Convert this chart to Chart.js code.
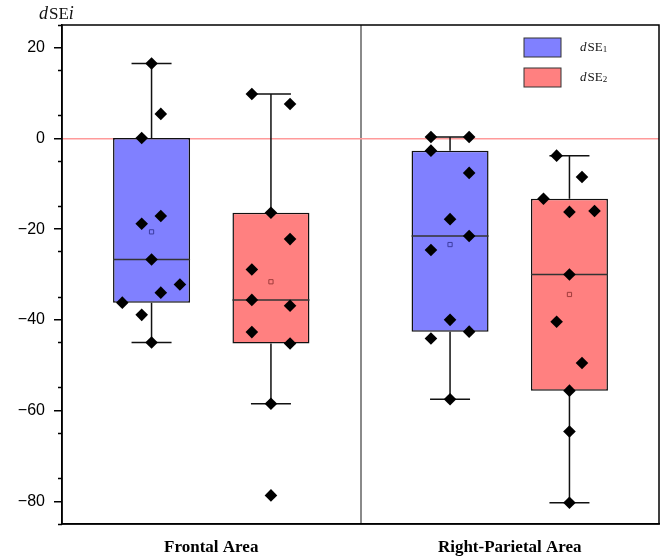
<!DOCTYPE html>
<html>
<head>
<meta charset="utf-8">
<script src="https://cdn.jsdelivr.net/npm/chart.js@4.4.1/dist/chart.umd.min.js"></script>
<style>
  html, body { margin: 0; padding: 0; background: #fff; }
</style>
</head>
<body>
<canvas id="chart" width="662" height="558"></canvas>
<script>
// values
const categories = ['Frontal Area', 'Right-Parietal Area'];

const dse1Points = [
  [16.5, 5.4, 0.1, -17.1, -18.8, -26.7, -32.2, -34.0, -36.2, -38.9, -45.0],
  [0.3, 0.3, -2.7, -7.6, -17.8, -21.5, -24.6, -40.0, -42.6, -44.1, -57.5]
];
const dse1Jitter = [
  [0, 0.031, -0.033, 0.031, -0.033, 0, 0.095, 0.031, -0.098, -0.033, 0],
  [-0.064, 0.064, -0.064, 0.064, 0, 0.064, -0.064, 0, 0.064, -0.064, 0]
];
const dse1Q1 = [-36.2, -42.6];
const dse1Median = [-26.7, -21.5];
const dse1Q3 = [0.1, -2.7];
const dse1Low = [-45.0, -57.5];
const dse1High = [16.5, 0.3];
const dse1Mean = [-20.6, -23.4];

const dse2Points = [
  [9.8, 7.6, -16.4, -22.2, -28.9, -35.6, -36.9, -42.7, -45.2, -58.5, -78.7],
  [-3.8, -8.5, -13.3, -16.2, -16.0, -30.0, -40.4, -49.5, -55.6, -64.6, -80.3]
];
const dse2Jitter = [
  [-0.064, 0.064, 0, 0.064, -0.064, -0.064, 0.064, -0.064, 0.064, 0, 0],
  [-0.043, 0.042, -0.087, 0, 0.084, 0, -0.043, 0.042, 0, 0, 0]
];
const dse2Q1 = [-45.2, -55.6];
const dse2Median = [-35.6, -30.0];
const dse2Q3 = [-16.4, -13.3];
const dse2Low = [-58.5, -80.3];
const dse2High = [9.8, -3.8];
const dse2Mean = [-31.6, -34.4];

const yMin = -85, yMax = 25, yMajorStep = 20, yMinorStep = 10;

// layout of the boxes inside a category (in category units)
const groupShift = 0.2;
const barPct = 0.645;
const boxHalf = groupShift * barPct;
const capHalf = 0.067;

const series = [
  { label: '1', fill: '#8080ff', meanEdge: '#3c3ca0', pts: dse1Points, jit: dse1Jitter,
    q1: dse1Q1, med: dse1Median, q3: dse1Q3, lo: dse1Low, hi: dse1High, mean: dse1Mean, shift: -groupShift },
  { label: '2', fill: '#ff8080', meanEdge: '#a03c3c', pts: dse2Points, jit: dse2Jitter,
    q1: dse2Q1, med: dse2Median, q3: dse2Q3, lo: dse2Low, hi: dse2High, mean: dse2Mean, shift: groupShift }
];

const datasets = [];
series.forEach(s => {
  datasets.push({
    type: 'bar', label: 'dSE' + s.label, xAxisID: 'xs', yAxisID: 'y',
    data: categories.map((c, i) => ({ x: i + 0.5 + s.shift, y: [s.q1[i], s.q3[i]] })),
    backgroundColor: s.fill, borderColor: '#111', borderWidth: 1.5, borderSkipped: false,
    grouped: false, categoryPercentage: 1, barPercentage: barPct, order: 5
  });
});
series.forEach(s => {
  const whisk = [], meds = [], dots = [], means = [];
  categories.forEach((c, i) => {
    const cx = i + 0.5 + s.shift;
    whisk.push({ x: cx, y: s.hi[i] }, { x: cx, y: s.q3[i] }, { x: cx, y: null },
               { x: cx, y: s.q1[i] }, { x: cx, y: s.lo[i] }, { x: cx, y: null },
               { x: cx - capHalf, y: s.hi[i] }, { x: cx + capHalf, y: s.hi[i] }, { x: cx, y: null },
               { x: cx - capHalf, y: s.lo[i] }, { x: cx + capHalf, y: s.lo[i] }, { x: cx, y: null });
    meds.push({ x: cx - boxHalf, y: s.med[i] }, { x: cx + boxHalf, y: s.med[i] }, { x: cx, y: null });
    means.push({ x: cx, y: s.mean[i] });
    s.pts[i].forEach((v, k) => dots.push({ x: cx + s.jit[i][k], y: v }));
  });
  datasets.push({ type: 'line', xAxisID: 'xs', yAxisID: 'y', data: whisk, borderColor: '#111',
    borderWidth: 1.5, pointRadius: 0, spanGaps: false, fill: false, order: 4 });
  datasets.push({ type: 'line', xAxisID: 'xs', yAxisID: 'y', data: meds, borderColor: '#333',
    borderWidth: 1.5, pointRadius: 0, spanGaps: false, fill: false, order: 3 });
  datasets.push({ type: 'scatter', xAxisID: 'xs', yAxisID: 'y', data: means, pointStyle: 'rect',
    pointRadius: 3, backgroundColor: s.fill, borderColor: s.meanEdge, borderWidth: 1, order: 2 });
  datasets.push({ type: 'scatter', xAxisID: 'xs', yAxisID: 'y', data: dots, pointStyle: 'rectRot',
    pointRadius: 6.3, backgroundColor: '#000', borderWidth: 0, order: 1 });
});

function richText(ctx, parts, x, y) {
  parts.forEach(p => {
    ctx.font = p.f;
    ctx.fillText(p.t, x, y + (p.dy || 0));
    x += ctx.measureText(p.t).width + (p.gap || 0);
  });
}

const serif = '"Liberation Serif", "Times New Roman", serif';

const decorations = {
  id: 'decorations',
  afterDraw(chart) {
    const { ctx, chartArea: a } = chart;
    ctx.save();
    ctx.strokeStyle = '#000';
    ctx.lineWidth = 1.5;
    ctx.strokeRect(a.left, a.top, a.right - a.left, a.bottom - a.top);

    ctx.fillStyle = '#111';
    ctx.textBaseline = 'alphabetic';
    richText(ctx, [
      { t: 'd', f: 'italic 18px ' + serif, gap: 1 },
      { t: 'SE', f: '17px ' + serif },
      { t: 'i', f: 'italic 18px ' + serif }
    ], 39, 19);

    series.forEach((s, k) => {
      const bx = a.right - 135, by = a.top + 13 + k * 30;
      ctx.fillStyle = s.fill;
      ctx.fillRect(bx, by, 37, 19);
      ctx.strokeStyle = '#333';
      ctx.lineWidth = 1;
      ctx.strokeRect(bx, by, 37, 19);
      ctx.fillStyle = '#111';
      richText(ctx, [
        { t: 'd', f: 'italic 13px ' + serif, gap: 1 },
        { t: 'SE', f: '13px ' + serif },
        { t: s.label, f: '9px ' + serif, dy: 1 }
      ], bx + 56, by + 13);
    });
    ctx.restore();
  }
};

new Chart(document.getElementById('chart'), {
  type: 'bar',
  data: { labels: categories, datasets },
  options: {
    responsive: false,
    animation: false,
    devicePixelRatio: 1,
    layout: { autoPadding: false, padding: { top: 25, right: 3, left: 0, bottom: 0 } },
    plugins: { legend: { display: false }, tooltip: { enabled: false } },
    scales: {
      x: {
        type: 'category', labels: categories, offset: true,
        grid: { offset: true, color: c => c.index === 1 ? '#8a8a8a' : 'rgba(0,0,0,0)', lineWidth: 2, drawTicks: false },
        border: { color: '#000', width: 1.5 },
        ticks: { color: '#000', padding: 13, font: { family: serif, size: 17, weight: 'bold' } },
        afterFit: s => { s.height = 34; }
      },
      xs: {
        type: 'linear', position: 'bottom', min: 0, max: categories.length, offset: false, display: false,
        ticks: { stepSize: 1 }
      },
      y: {
        position: 'left', min: yMin, max: yMax, weight: 1,
        ticks: {
          stepSize: yMajorStep, includeBounds: false, color: '#000', padding: 9,
          font: { family: '"Liberation Sans", Arial, sans-serif', size: 16 },
          callback: v => v < 0 ? '\u2212' + Math.abs(v) : String(v)
        },
        grid: {
          color: c => c.tick && c.tick.value === 0 ? '#ff9a9a' : 'rgba(0,0,0,0)',
          lineWidth: 1.5, tickColor: '#000', tickLength: 8, tickWidth: 1.5
        },
        border: { color: '#000', width: 1.5 },
        afterFit: s => { s.width = 62; }
      },
      yMinor: {
        position: 'left', min: yMin, max: yMax, weight: 0,
        ticks: { stepSize: yMinorStep, includeBounds: false, callback: () => '' },
        grid: { drawOnChartArea: false, tickLength: 4, tickColor: '#000', tickWidth: 1.5 },
        border: { display: false },
        afterFit: s => { s.width = 0; }
      }
    }
  },
  plugins: [decorations]
});
</script>
</body>
</html>
